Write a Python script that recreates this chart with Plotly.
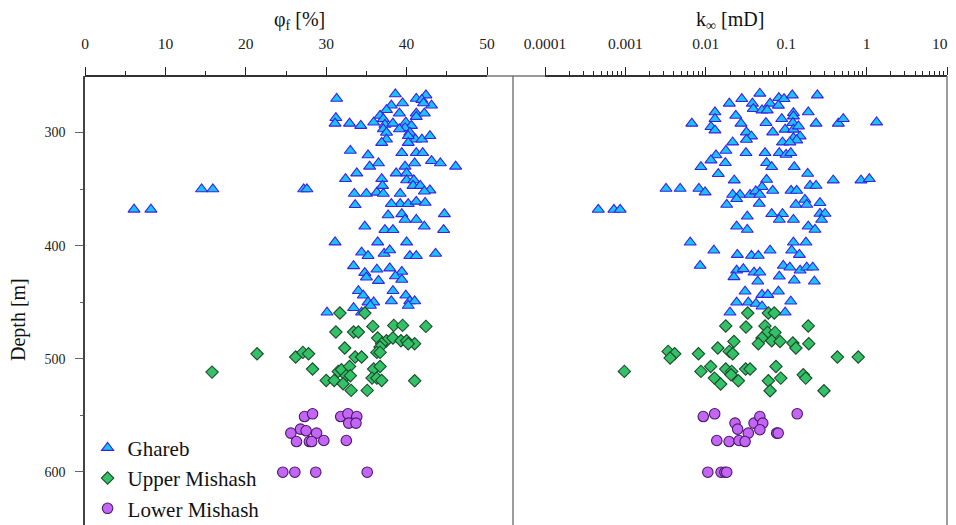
import plotly.graph_objects as go

# ---------------- data ----------------
# Porosity panel (phi_f in %, depth in m)
ghareb_phi = [31.3, 38.6, 41.2, 42.4, 41.9, 39.5, 38.1, 37.5, 43.1, 42.1, 41.2, 42.2, 39.1, 41.2, 36.7,
              31.2, 31.1, 32.9, 34.3, 35.9, 37.1, 37.3, 38.3, 39.9, 40.6, 39.8, 39.1, 37.1, 37.5, 40.4,
              41.1, 41.9, 42.9, 40.2, 40.2, 37.5, 36.9, 33.0, 35.2, 39.4, 41.2, 42.0, 43.1, 44.2, 46.1,
              41.0, 35.4, 36.5, 39.8, 33.8, 38.7, 40.0, 32.4, 36.9, 40.0, 40.9, 40.8, 41.7, 42.9, 42.2,
              27.2, 27.6, 33.5, 35.0, 36.3, 37.1, 37.0, 39.2, 39.2, 38.1, 40.2, 41.2, 42.3, 33.6, 39.4,
              37.7, 39.8, 41.2, 44.7, 42.2, 44.6, 34.8, 37.3, 38.3, 31.1, 36.4, 40.0, 34.4, 35.2, 37.2,
              37.9, 40.4, 41.2, 43.6, 33.4, 34.8, 36.3, 37.9, 39.4, 35.0, 36.5, 38.6, 39.4, 34.0, 34.6,
              38.3, 38.1, 39.9, 40.4, 41.0, 35.2, 35.9, 35.5, 40.2, 30.1, 33.4, 34.4, 6.1, 8.2, 14.5, 15.9]
ghareb_phi_depth = [270, 266, 270, 267, 271, 274, 276, 280, 276, 274, 283, 283, 283, 286, 285,
                    287, 292, 292, 294, 291, 288, 293, 292, 291, 294, 296, 297, 297, 300, 300,
                    306, 306, 303, 303, 309, 306, 309, 316, 320, 318, 318, 318, 325, 327, 330,
                    327, 330, 327, 330, 336, 336, 336, 341, 341, 342, 342, 347, 347, 351, 352,
                    350, 350, 354, 354, 353, 354, 347, 354, 363, 363, 363, 361, 362, 364, 372,
                    373, 377, 377, 372, 383, 386, 383, 386, 386, 397, 397, 397, 406, 409, 407,
                    404, 409, 409, 407, 418, 424, 421, 420, 423, 428, 431, 427, 430, 440, 444,
                    440, 449, 444, 449, 449, 450, 450, 453, 453, 459, 455, 459, 368, 368, 350, 350]

upper_phi = [31.7, 34.8, 35.8, 38.4, 39.5, 42.4, 31.2, 33.4, 34.0, 36.4, 37.5, 38.3, 39.3, 40.0, 41.0,
             40.2, 36.9, 36.7, 32.3, 36.3, 36.7, 26.2, 27.1, 27.8, 33.6, 34.4, 28.3, 31.5, 31.9, 32.9,
             32.5, 33.0, 35.9, 36.7, 30.0, 31.0, 32.1, 35.7, 36.3, 36.9, 41.0, 33.1, 35.1, 21.4, 15.8]
upper_phi_depth = [459.6, 459.6, 471.4, 470.5, 470.5, 471.4, 476.4, 476.4, 476.4, 481.7, 484.1, 481.7,
                   484.1, 484.1, 486.7, 486.7, 486.7, 489.6, 490.5, 494.4, 494.4, 498.5, 494.4, 495.6,
                   498.5, 498.5, 509.1, 511.2, 509.7, 506.8, 515.0, 515.0, 509.1, 506.8, 519.2, 519.2,
                   522.1, 517.1, 517.1, 519.2, 519.5, 528.0, 528.0, 495.6, 511.8]

lower_phi = [27.3, 28.3, 31.8, 32.7, 33.8, 32.8, 33.7, 25.6, 26.8, 27.5, 28.8, 26.3, 27.9, 28.2, 29.7,
             32.5, 24.6, 26.1, 28.7, 35.1]
lower_phi_depth = [551.1, 548.7, 551.1, 548.7, 551.1, 556.9, 556.9, 565.8, 562.2, 563.7, 565.8, 573.2,
                   573.2, 573.2, 572.3, 572.3, 600.3, 600.3, 600.3, 600.3]

# Permeability panel (k_inf in mD, depth in m)
ghareb_k = [0.047, 0.028, 0.0196, 0.081, 0.094, 0.119, 0.244, 0.038, 0.063, 0.080, 0.039, 0.050, 0.058,
            0.013, 0.0236, 0.123, 0.188, 0.013, 0.0067, 0.0116, 0.013, 0.0274, 0.056, 0.088, 0.123,
            0.121, 0.235, 0.445, 0.513, 1.33, 0.097, 0.123, 0.142, 0.032, 0.037, 0.068, 0.032, 0.123,
            0.149, 0.135, 0.090, 0.111, 0.0216, 0.0178, 0.0134, 0.0116, 0.0175, 0.0316, 0.0545, 0.082,
            0.0995, 0.114, 0.057, 0.066, 0.126, 0.185, 0.0087, 0.0143, 0.0226, 0.057, 0.050, 0.068,
            0.115, 0.135, 0.198, 0.235, 0.385, 0.851, 1.08, 0.0032, 0.0048, 0.0082, 0.0098, 0.0216,
            0.0266, 0.0355, 0.0418, 0.047, 0.0242, 0.0182, 0.0462, 0.132, 0.171, 0.180, 0.263, 0.00046,
            0.00072, 0.00086, 0.0328, 0.066, 0.090, 0.082, 0.123, 0.263, 0.304, 0.276, 0.0242, 0.0328,
            0.188, 0.228, 0.0064, 0.123, 0.176, 0.0126, 0.0247, 0.037, 0.045, 0.063, 0.117, 0.146,
            0.0085, 0.0242, 0.0293, 0.0398, 0.047, 0.092, 0.111, 0.149, 0.180, 0.214, 0.0224, 0.082,
            0.0443, 0.126, 0.224, 0.0308, 0.050, 0.059, 0.080, 0.0242, 0.0338, 0.0421, 0.050, 0.114,
            0.020, 0.097]
ghareb_k_depth = [265.5, 270.2, 274.3, 269.3, 270.2, 267.0, 267.0, 274.3, 274.3, 276.1, 279.0, 280.3,
                  280.3, 282.0, 285.0, 282.6, 282.0, 287.9, 292.0, 295.0, 298.0, 292.0, 291.4, 287.9,
                  285.6, 291.4, 292.0, 292.0, 287.9, 290.9, 297.3, 297.3, 294.4, 299.7, 303.3, 299.7,
                  306.2, 304.7, 303.3, 306.8, 308.6, 308.6, 308.6, 316.0, 320.0, 324.5, 326.8, 318.0,
                  318.0, 318.0, 319.5, 318.0, 326.8, 330.4, 330.4, 336.3, 330.4, 336.5, 342.2, 341.6,
                  348.0, 351.3, 351.3, 351.3, 346.9, 346.9, 342.2, 342.2, 341.0, 349.6, 349.6, 349.6,
                  352.8, 354.9, 354.9, 354.9, 351.9, 354.9, 358.7, 363.7, 362.8, 363.7, 359.3, 363.7,
                  362.2, 368.1, 368.1, 368.1, 374.1, 371.9, 371.9, 377.0, 377.0, 371.7, 371.7, 377.0,
                  382.9, 385.8, 382.9, 385.8, 397.1, 397.1, 397.1, 404.2, 408.0, 408.8, 408.8, 404.2,
                  404.2, 408.0, 417.7, 421.9, 420.6, 423.6, 423.6, 417.7, 419.2, 421.9, 419.2, 419.2,
                  427.7, 427.2, 431.6, 430.7, 431.6, 440.4, 443.4, 443.4, 440.4, 450.2, 450.2, 451.3,
                  453.7, 449.3, 459.0, 459.0]

upper_k = [0.0332, 0.060, 0.071, 0.0177, 0.0316, 0.0545, 0.188, 0.0587, 0.0726, 0.0224, 0.050, 0.066,
           0.0838, 0.121, 0.045, 0.132, 0.191, 0.0141, 0.0196, 0.0216, 0.0081, 0.0034, 0.0041, 0.0036,
           0.433, 0.787, 0.00097, 0.0087, 0.0115, 0.0177, 0.021, 0.0313, 0.0355, 0.0746, 0.0128,
           0.0153, 0.0206, 0.0254, 0.060, 0.0855, 0.163, 0.175, 0.063, 0.295]
upper_k_depth = [459.6, 459.6, 459.6, 471.0, 472.0, 471.0, 471.0, 476.7, 476.7, 484.7, 481.7, 484.1,
                 484.7, 486.1, 486.7, 490.5, 486.7, 490.5, 493.5, 495.6, 495.6, 493.5, 495.6, 499.4,
                 498.5, 498.5, 511.2, 511.2, 506.8, 509.1, 511.2, 509.1, 509.1, 506.8, 517.1, 522.4,
                 514.2, 519.5, 519.5, 517.1, 514.2, 517.1, 528.3, 528.3]

lower_k = [0.0093, 0.0129, 0.0231, 0.0398, 0.047, 0.0511, 0.137, 0.0249, 0.0338, 0.047, 0.0762, 0.0794,
           0.0137, 0.0195, 0.0259, 0.0308, 0.0106, 0.0155, 0.0173, 0.0182]
lower_k_depth = [551.1, 548.7, 556.9, 556.9, 551.1, 556.9, 548.7, 562.2, 565.8, 562.8, 565.8, 565.8,
                 572.3, 573.2, 572.3, 573.2, 600.3, 600.3, 600.3, 600.3]

phi_ticks = [0, 10, 20, 30, 40, 50]
k_ticks = [0.0001, 0.001, 0.01, 0.1, 1, 10]
k_ticklabels = ["0.0001", "0.001", "0.01", "0.1", "1", "10"]
depth_ticks = [300, 400, 500, 600]

# ---------------- styles ----------------
FONT = "Liberation Serif"
styles = {
    "Ghareb": dict(symbol="triangle-up", color="#19C3F3", line=dict(color="#3C1FE6", width=1.1), size=10.5),
    "Upper Mishash": dict(symbol="diamond", color="#33C167", line=dict(color="#1C4A2C", width=1.1), size=9.5),
    "Lower Mishash": dict(symbol="circle", color="#C466F5", line=dict(color="#4A1868", width=1.1), size=10.5),
}

fig = go.Figure()
series = [
    ("Ghareb", ghareb_phi, ghareb_phi_depth, ghareb_k, ghareb_k_depth),
    ("Upper Mishash", upper_phi, upper_phi_depth, upper_k, upper_k_depth),
    ("Lower Mishash", lower_phi, lower_phi_depth, lower_k, lower_k_depth),
]
for name, phi, pd_, k, kd in series:
    st = styles[name]
    fig.add_trace(go.Scatter(x=phi, y=pd_, mode="markers", name=name, legendgroup=name,
                             marker=st, xaxis="x", yaxis="y", showlegend=True))
    fig.add_trace(go.Scatter(x=k, y=kd, mode="markers", name=name, legendgroup=name,
                             marker=st, xaxis="x2", yaxis="y", showlegend=False))

split = (513 - 85) / (947 - 85)
tickfont = dict(family=FONT, size=15.5, color="#222")

# last k label is drawn as an annotation so it is not clipped at the page edge
k_axis_labels = k_ticklabels[:-1] + [""]

# the page body adds an 8 px offset, so the figure is sized to fill the rest of the window
fig.update_layout(
    width=948, height=517,
    margin=dict(l=77, r=9, t=68, b=0, autoexpand=False),
    paper_bgcolor="white", plot_bgcolor="white",
    font=dict(family=FONT, color="#111"),
    showlegend=True,
    legend=dict(x=0.003, y=0.217, xanchor="left", yanchor="top", bgcolor="rgba(0,0,0,0)",
                font=dict(family=FONT, size=21, color="#111"), itemsizing="trace", tracegroupgap=0),
    xaxis=dict(domain=[0, split], range=[0, 53.23], side="top", anchor="y", automargin=False,
               tickvals=phi_ticks, ticks="outside", ticklen=8, tickwidth=1.3, tickcolor="#222",
               minor=dict(tickvals=[5, 15, 25, 35, 45], ticks="outside", ticklen=4, tickcolor="#222", tickwidth=1.1),
               showline=False, showgrid=False, zeroline=False, tickfont=tickfont, ticklabelstandoff=12,
               ticklabeloverflow="allow"),
    xaxis2=dict(domain=[split, 1], type="log", range=[-4.398, 1], side="top", anchor="y", automargin=False,
                tickvals=k_ticks, ticktext=k_axis_labels, ticks="outside", ticklen=8, tickwidth=1.3,
                tickcolor="#222",
                minor=dict(tickvals=[m * 10 ** e for e in range(-4, 1) for m in range(2, 10)],
                           ticks="outside", ticklen=4, tickcolor="#222", tickwidth=1.1),
                showline=False, showgrid=False, zeroline=False, tickfont=tickfont, ticklabelstandoff=12,
                ticklabeloverflow="allow"),
    yaxis=dict(range=[647, 250], tickvals=depth_ticks, ticks="outside", ticklen=8, tickwidth=1.3, automargin=False,
               tickcolor="#666", minor=dict(tickvals=[350, 450, 550], ticks="outside", ticklen=3, tickcolor="#666"),
               showline=True, linecolor="#444", linewidth=1.5, showgrid=False, zeroline=False,
               tickfont=dict(family=FONT, size=14, color="#222"), ticklabelstandoff=7),
)

# frame lines
fig.add_shape(type="line", xref="paper", yref="paper", x0=0, x1=1, y0=1, y1=1,
              line=dict(color="#777", width=1.3))
fig.add_shape(type="line", xref="x", yref="paper", x0=0, x1=50, y0=1, y1=1,
              line=dict(color="#111", width=1.5))
fig.add_shape(type="line", xref="x2", yref="paper", x0=0.0001, x1=10, y0=1, y1=1,
              line=dict(color="#111", width=1.5))
fig.add_shape(type="line", xref="paper", yref="paper", x0=split, x1=split, y0=0, y1=1,
              line=dict(color="#666", width=1.3))
fig.add_shape(type="line", xref="paper", yref="paper", x0=1, x1=1, y0=0, y1=1,
              line=dict(color="#666", width=1.3))

# last tick label of the k axis
fig.add_annotation(text=k_ticklabels[-1], xref="paper", yref="paper", x=1, y=1 + (76 - 44) / 449,
                   xshift=3, showarrow=False, font=tickfont, xanchor="right", yanchor="middle")

# axis titles
fig.add_annotation(text="φ<sub>f</sub> [%]", xref="paper", yref="paper", x=split / 2, y=1 + (76 - 21) / 449,
                   showarrow=False, font=dict(family=FONT, size=20, color="#111"), xanchor="center", yanchor="middle")
fig.add_annotation(text="k<sub>∞</sub> [mD]", xref="paper", yref="paper", x=(split + 1) / 2, y=1 + (76 - 21) / 449,
                   showarrow=False, font=dict(family=FONT, size=20, color="#111"), xanchor="center", yanchor="middle")
fig.add_annotation(text="Depth [m]", xref="paper", yref="paper", x=(18 - 85) / 862, y=(525 - 320) / 449,
                   textangle=-90, showarrow=False, font=dict(family=FONT, size=20, color="#111"),
                   xanchor="center", yanchor="middle")

fig.write_html("out.html")
